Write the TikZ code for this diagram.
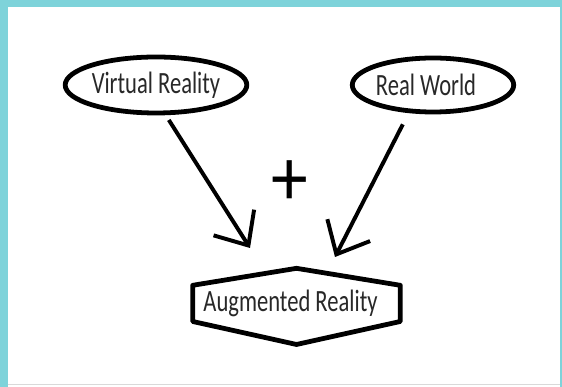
\documentclass[tikz,border=0pt]{standalone}
\usepackage{fontspec}
\setmainfont{Carlito}[FakeStretch=0.73]
\newfontfamily\plusfont{Carlito}[FakeStretch=0.9]
\usetikzlibrary{shapes,positioning,arrows.meta}

\definecolor{frameteal}{RGB}{126,211,218}
\definecolor{inkgray}{RGB}{40,40,40}

\begin{document}
\begin{tikzpicture}[
    bubble/.style={ellipse, draw, line width=3.4pt, inner sep=0pt,
        font=\fontsize{22}{26}\selectfont, text=inkgray},
    arrowline/.style={line width=2.8pt,
        -{Straight Barb[length=0.68cm, width=1.2cm]}},
  ]

        % frame round the sheet
        \useasboundingbox (0,0) rectangle (14.05,9.675);
        \fill[frameteal] (0,0) rectangle (14.05,9.675);
        \fill[white] (0.2,0) rectangle (14.0,9.5);
        \draw[black!15, line width=0.6pt] (0.2,0.07) -- (14.0,0.07);

        \node (vr) [bubble, minimum width=4.1cm, minimum height=1.4cm]
        at (3.9,7.55) {Virtual Reality};
        \node (rw) [bubble, minimum width=3.55cm, minimum height=1.35cm]
        at (10.825,7.55) {Real World\hspace*{0.35cm}};
        \node (ar) [minimum width=5.175cm, minimum height=0.89cm,
        inner sep=0pt, font=\fontsize{22}{26}\selectfont, text=inkgray]
        at (7.4125,2.09) {Augmented Reality\hspace*{0.3cm}};
        \node (plus) at (7.25,5.1) {\plusfont\fontsize{58}{58}\selectfont +};

        % loose ends of the two arrows
        \coordinate (vrtip) at (6.25,3.475);
        \coordinate (rwtip) at (8.375,3.25);

        % hexagon round the result
        \draw[line width=3.4pt, line join=round] (ar.north west)
        -- ([yshift=0.425cm]ar.north) -- (ar.north east)
        -- (ar.south east) -- ([yshift=-0.575cm]ar.south)
        -- (ar.south west) -- cycle;

        \draw[arrowline, shorten <=4pt] (vr.-72) -- (vrtip);
        \draw[arrowline, shorten <=9pt] (rw.-131) -- (rwtip);

\end{tikzpicture}
\end{document}
